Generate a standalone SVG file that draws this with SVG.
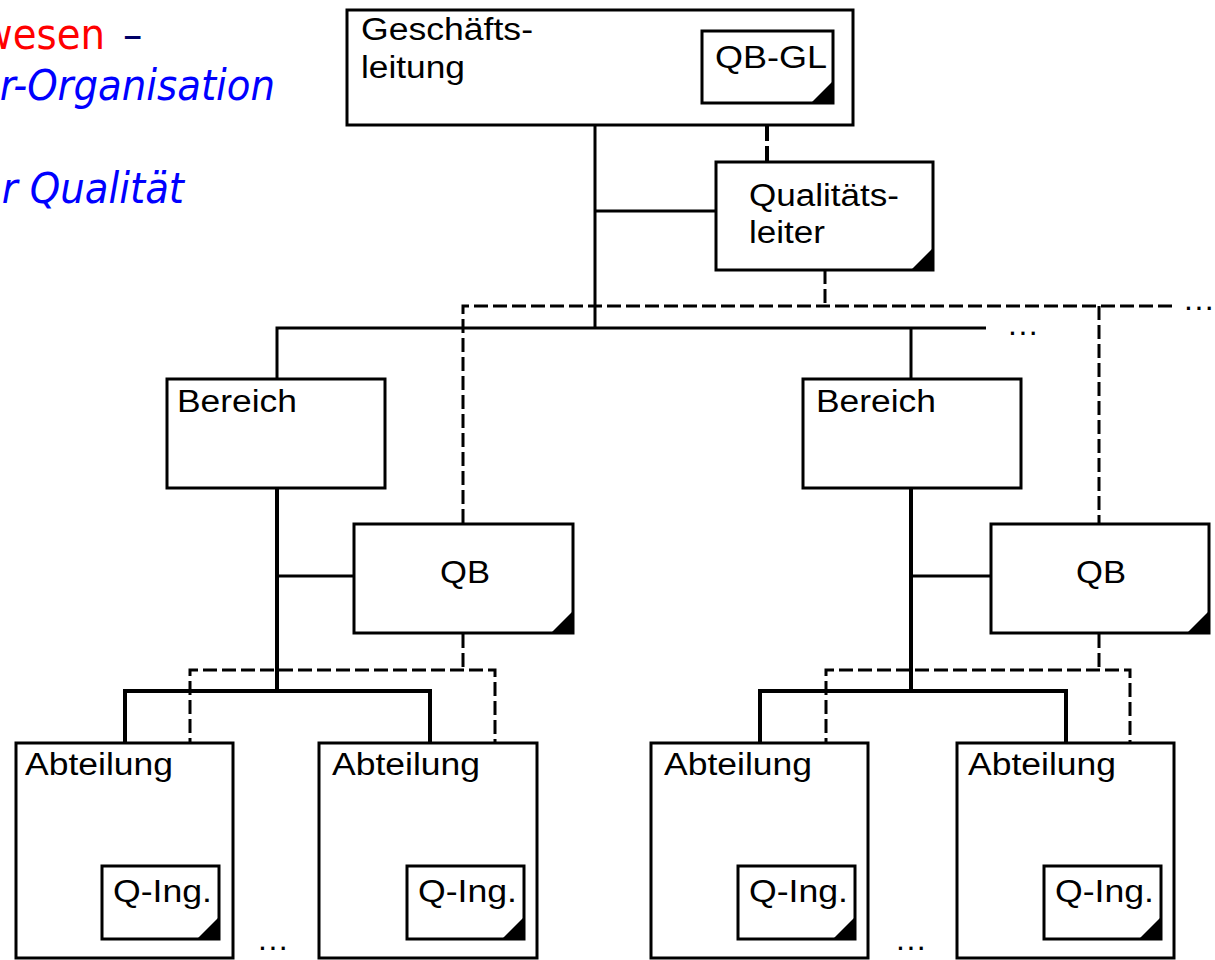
<svg xmlns="http://www.w3.org/2000/svg" width="1215" height="960" viewBox="0 0 1215 960">
<style>
.box{fill:#fff;stroke:#000;stroke-width:3}
.lbl{font-family:"Liberation Sans",Arial,sans-serif;font-size:31px;fill:#000}
.ln{fill:none;stroke:#000;stroke-width:3}
.thick{fill:none;stroke:#000;stroke-width:4}
.dash{fill:none;stroke:#000;stroke-width:3;stroke-dasharray:14 5}
.dashb{fill:none;stroke:#000;stroke-width:4;stroke-dasharray:16 5}
.corner{fill:#000}
.title{font-family:"DejaVu Sans Condensed","DejaVu Sans",sans-serif;font-size:43px}
.dots{font-family:"Liberation Sans",Arial,sans-serif;font-size:32px;letter-spacing:1.5px;fill:#000}
</style>
<rect width="1215" height="960" fill="#fff"/>
<g id="title">
<text class="title" x="105" y="49" text-anchor="end" fill="#ff0000">wesen</text>
<text class="title" x="123" y="49" fill="#000066">–</text>
<text class="title" x="275" y="100" text-anchor="end" fill="#0000ff" font-style="italic">r-Organisation</text>
<text class="title" x="184" y="203" text-anchor="end" fill="#0000ff" font-style="italic">r Qualität</text>
</g>
<g id="connectors">
<path class="ln" d="M595 125V328M595 211H716M277 378V328H986M911 328V378"/>
<path class="thick" d="M277 489V691M911 489V691M125 743V691H430V743M760 743V691H1066V743"/>
<path class="ln" d="M277 576H354M911 576H991"/>
<path class="dashb" d="M767 104V161"/>
<path class="dash" d="M825 270V306M463 523V306H1172M1099 306V523"/>
<path class="dash" d="M463 634V670M190 866V670H495V866M1099 634V670M826 866V670H1130V866"/>
<text class="dots" x="1008" y="335">...</text>
<text class="dots" x="1184" y="310">...</text>
<text class="dots" x="258" y="950">...</text>
<text class="dots" x="896" y="950">...</text>
</g>
<g id="geschaeftsleitung">
<rect class="box" x="347" y="10" width="506" height="115"/>
<text class="lbl" x="361" y="40" textLength="172" lengthAdjust="spacingAndGlyphs">Geschäfts-</text>
<text class="lbl" x="361" y="78" textLength="104" lengthAdjust="spacingAndGlyphs">leitung</text>
</g>
<g id="qb-gl">
<rect class="box" x="702" y="31" width="131" height="72"/>
<path class="corner" d="M833 81V103H811Z"/>
<text class="lbl" x="715" y="68" textLength="112" lengthAdjust="spacingAndGlyphs">QB-GL</text>
</g>
<g id="qualitaetsleiter">
<rect class="box" x="716" y="162" width="217" height="108"/>
<path class="corner" d="M933 248V270H911Z"/>
<text class="lbl" x="749" y="206" textLength="150" lengthAdjust="spacingAndGlyphs">Qualitäts-</text>
<text class="lbl" x="749" y="243" textLength="76" lengthAdjust="spacingAndGlyphs">leiter</text>
</g>
<g id="bereich-1">
<rect class="box" x="167" y="379" width="218" height="109"/>
<text class="lbl" x="177" y="412" textLength="120" lengthAdjust="spacingAndGlyphs">Bereich</text>
</g>
<g id="bereich-2">
<rect class="box" x="803" y="379" width="218" height="109"/>
<text class="lbl" x="816" y="412" textLength="120" lengthAdjust="spacingAndGlyphs">Bereich</text>
</g>
<g id="qb-1">
<rect class="box" x="354" y="524" width="219" height="109"/>
<path class="corner" d="M573 611V633H551Z"/>
<text class="lbl" x="440" y="583" textLength="50" lengthAdjust="spacingAndGlyphs">QB</text>
</g>
<g id="qb-2">
<rect class="box" x="991" y="524" width="218" height="109"/>
<path class="corner" d="M1209 611V633H1187Z"/>
<text class="lbl" x="1076" y="583" textLength="50" lengthAdjust="spacingAndGlyphs">QB</text>
</g>
<g id="abteilung-1">
<rect class="box" x="16" y="743" width="217" height="215"/>
<text class="lbl" x="25" y="775" textLength="148" lengthAdjust="spacingAndGlyphs">Abteilung</text>
</g>
<g id="abteilung-2">
<rect class="box" x="319" y="743" width="218" height="215"/>
<text class="lbl" x="332" y="775" textLength="148" lengthAdjust="spacingAndGlyphs">Abteilung</text>
</g>
<g id="abteilung-3">
<rect class="box" x="651" y="743" width="217" height="215"/>
<text class="lbl" x="664" y="775" textLength="148" lengthAdjust="spacingAndGlyphs">Abteilung</text>
</g>
<g id="abteilung-4">
<rect class="box" x="957" y="743" width="217" height="215"/>
<text class="lbl" x="968" y="775" textLength="148" lengthAdjust="spacingAndGlyphs">Abteilung</text>
</g>
<g id="q-ing-1">
<rect class="box" x="102" y="866" width="117" height="73"/>
<path class="corner" d="M219 917V939H197Z"/>
<text class="lbl" x="113" y="902" textLength="99" lengthAdjust="spacingAndGlyphs">Q-Ing.</text>
</g>
<g id="q-ing-2">
<rect class="box" x="407" y="866" width="117" height="73"/>
<path class="corner" d="M524 917V939H502Z"/>
<text class="lbl" x="418" y="902" textLength="99" lengthAdjust="spacingAndGlyphs">Q-Ing.</text>
</g>
<g id="q-ing-3">
<rect class="box" x="738" y="866" width="117" height="73"/>
<path class="corner" d="M855 917V939H833Z"/>
<text class="lbl" x="749" y="902" textLength="99" lengthAdjust="spacingAndGlyphs">Q-Ing.</text>
</g>
<g id="q-ing-4">
<rect class="box" x="1044" y="866" width="117" height="73"/>
<path class="corner" d="M1161 917V939H1139Z"/>
<text class="lbl" x="1055" y="902" textLength="99" lengthAdjust="spacingAndGlyphs">Q-Ing.</text>
</g>
</svg>
